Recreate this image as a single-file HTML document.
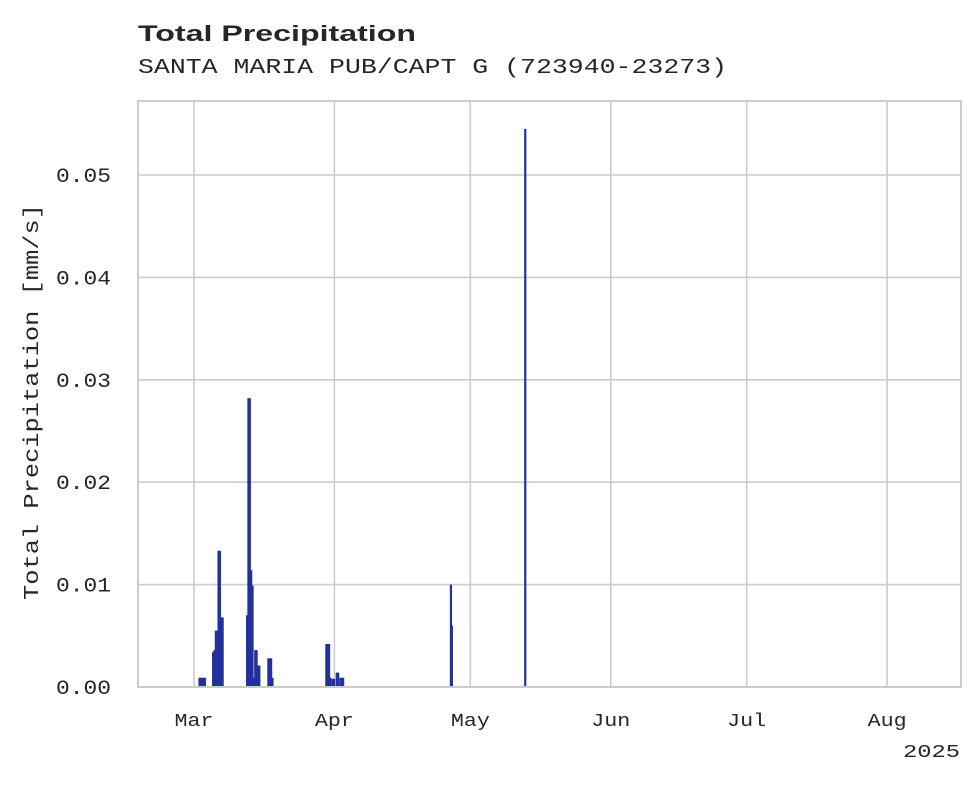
<!DOCTYPE html>
<html><head><meta charset="utf-8"><style>
body{margin:0;background:#fff}
svg text{fill:#262626}
</style></head><body>
<svg width="980" height="783" xmlns="http://www.w3.org/2000/svg">
<text x="138" y="41" font-family="Liberation Sans, sans-serif" font-weight="bold" font-size="22" textLength="278" lengthAdjust="spacingAndGlyphs">Total Precipitation</text>
<text x="138" y="73" font-family="Liberation Mono, monospace" font-size="21" textLength="589" lengthAdjust="spacingAndGlyphs">SANTA MARIA PUB/CAPT G (723940-23273)</text>
<g id="grid"></g>
<g id="bars"></g>
<rect x="138" y="101" width="823" height="586" fill="none" stroke="#cccccc" stroke-width="2"/>
<g id="ticks"></g>
<text transform="translate(38,402) rotate(-90)" text-anchor="middle" font-family="Liberation Mono, monospace" font-size="21" textLength="396" lengthAdjust="spacingAndGlyphs">Total Precipitation [mm/s]</text>
<text x="960" y="757" text-anchor="end" font-family="Liberation Mono, monospace" font-size="18" textLength="57" lengthAdjust="spacingAndGlyphs">2025</text>
</svg>
<script>
const days=[1.2,1.5,1.8,2.1,2.4,4.2,4.5,4.8,5.1,5.4,5.7,6.0,6.3,11.7,12.0,12.3,12.6,12.9,13.2,13.5,13.8,14.1,14.4,16.4,16.7,17.0,17.3,29.2,29.5,29.8,30.1,30.6,30.9,31.5,31.8,32.3,32.6,32.9,56.7,56.9,73.1];
const values=[0.0009,0.0009,0.0009,0.0009,0.0009,0.0034,0.0036,0.0055,0.0055,0.0133,0.0133,0.0068,0.0068,0.0070,0.0282,0.0282,0.0114,0.0099,0.0009,0.0036,0.0036,0.0021,0.0021,0.0028,0.0028,0.0028,0.0009,0.0042,0.0042,0.0042,0.0009,0.0008,0.0008,0.0014,0.0014,0.0009,0.0009,0.0009,0.0100,0.0060,0.0545];
const yTicks=[0,0.01,0.02,0.03,0.04,0.05];
const yTickLabels=["0.00","0.01","0.02","0.03","0.04","0.05"];
const monthLabels=["Mar","Apr","May","Jun","Jul","Aug"];
const monthDays=[0,31,61,92,122,153];
const NS="http://www.w3.org/2000/svg";
const xs=d=>194+d*4.53;
const ys=v=>687-v*10240;
function mk(tag,attrs,parent){const e=document.createElementNS(NS,tag);for(const k in attrs)e.setAttribute(k,attrs[k]);parent.appendChild(e);return e;}
const grid=document.getElementById('grid'),ticks=document.getElementById('ticks'),bars=document.getElementById('bars');
yTicks.forEach((v,i)=>{
 if(i>0){const l=mk('line',{x1:138,x2:961,y1:ys(v),y2:ys(v),stroke:'#cccccc','stroke-width':1.6},grid);
 
 }
 const t=mk('text',{x:111,y:ys(v)+7,'text-anchor':'end','font-family':'Liberation Mono, monospace','font-size':20,textLength:55,lengthAdjust:'spacingAndGlyphs'},ticks);
 t.textContent=yTickLabels[i];
 
 
});
monthDays.forEach((d,i)=>{
 const l=mk('line',{x1:xs(d),x2:xs(d),y1:101,y2:687,stroke:'#cccccc','stroke-width':1.6},grid);
 
 
 const t=mk('text',{x:xs(d),y:726,'text-anchor':'middle','font-family':'Liberation Mono, monospace','font-size':18,textLength:39,lengthAdjust:'spacingAndGlyphs'},ticks);
 t.textContent=monthLabels[i];
 
 
});
days.forEach((d,i)=>{
 const y=ys(values[i]);
 const r=mk('rect',{x:xs(d)-1,y:y,width:2.2,height:687-y,fill:'#23319a'},bars);
 
 
});
</script>
</body></html>
